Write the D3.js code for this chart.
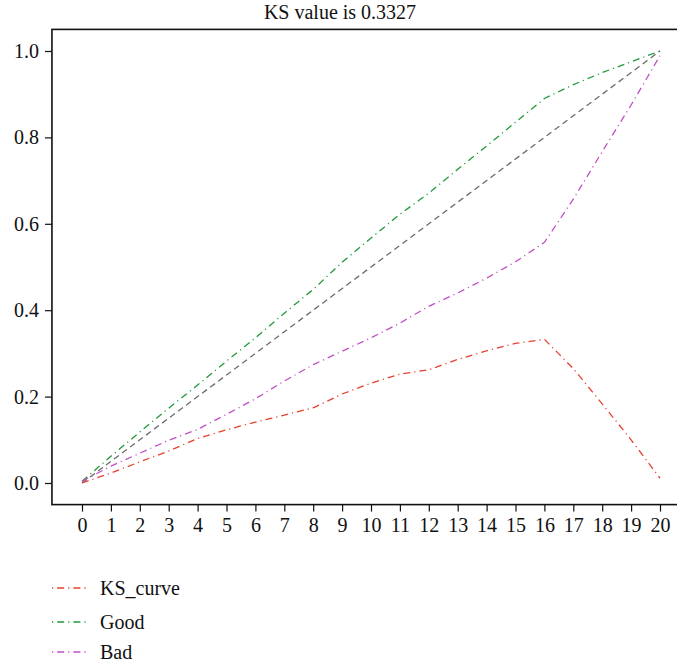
<!DOCTYPE html>
<html>
<head>
<meta charset="utf-8">
<script src="https://cdn.jsdelivr.net/npm/d3@7/dist/d3.min.js"></script>
<style>
  html, body { margin: 0; padding: 0; background: #fff; }
  svg { display: block; }
  text { font-family: "Liberation Serif", "DejaVu Serif", serif; fill: #111; }
</style>
</head>
<body>
<svg id="chart" width="677" height="663"></svg>
<script>
// ---- data ----
const steps = [0,1,2,3,4,5,6,7,8,9,10,11,12,13,14,15,16,17,18,19,20];
const ksCurve = [0.0, 0.023, 0.049, 0.074, 0.103, 0.123, 0.141, 0.157, 0.174, 0.206, 0.231,
                 0.252, 0.262, 0.286, 0.306, 0.323, 0.3327, 0.265, 0.183, 0.100, 0.011];
const good = [0.004, 0.062, 0.118, 0.173, 0.227, 0.282, 0.336, 0.393, 0.448, 0.511, 0.567,
              0.622, 0.671, 0.726, 0.780, 0.835, 0.890, 0.922, 0.950, 0.975, 1.0];
const bad = [0.004, 0.039, 0.069, 0.099, 0.124, 0.159, 0.195, 0.236, 0.274, 0.305, 0.336,
             0.370, 0.409, 0.440, 0.474, 0.512, 0.557, 0.657, 0.767, 0.875, 0.989];
const diagonal = [[0, 0], [20, 1]];
const yTicks = [0, 0.2, 0.4, 0.6, 0.8, 1.0];
const titleText = "KS value is 0.3327";
const seriesNames = ["KS_curve", "Good", "Bad"];

// ---- layout ----
const FONT = '"Liberation Serif", "DejaVu Serif", serif';
const svg = d3.select("#chart");
const x = d3.scaleLinear().domain([0, 20]).range([82, 660]);
const y = d3.scaleLinear().domain([0, 1]).range([483, 51]);
const x0 = x(-1.04), x1 = x(21.04), yTop = y(1.05), yBot = y(-0.05);

const colors = { KS_curve: "#e8402e", Good: "#22993a", Bad: "#c04fc6", diag: "#6b6b6b" };
const dashDot = "7,4,1.2,4";

// title
svg.append("text").attr("x", 340).attr("y", 19).attr("text-anchor", "middle")
  .style("font-family", FONT).style("font-size", "20px").text(titleText);

// axes
const yAxis = d3.axisLeft(y).tickValues(yTicks).tickFormat(d3.format(".1f")).tickSize(7).tickPadding(6);
const gy = svg.append("g").attr("transform", `translate(${x0},0)`).call(yAxis);
gy.select(".domain").remove();
gy.selectAll("line").attr("stroke", "#111").attr("stroke-width", 1.2);
gy.selectAll("text").style("font-size", "20px").style("font-family", FONT).style("fill", "#111");

const xAxis = d3.axisBottom(x).tickValues(steps).tickFormat(d3.format("d")).tickSize(7).tickPadding(6);
const gx = svg.append("g").attr("transform", `translate(0,${yBot})`).call(xAxis);
gx.select(".domain").remove();
gx.selectAll("line").attr("stroke", "#111").attr("stroke-width", 1.2);
gx.selectAll("text").style("font-size", "20px").style("font-family", FONT).style("fill", "#111");

// frame
svg.append("rect").attr("x", x0).attr("y", yTop).attr("width", x1 - x0).attr("height", yBot - yTop)
  .attr("fill", "none").attr("stroke", "#111").attr("stroke-width", 1.6);

// lines
const line = d3.line().x((d, i) => x(steps[i])).y(d => y(d));
svg.append("path").datum(diagonal)
  .attr("d", d3.line().x(d => x(d[0])).y(d => y(d[1])))
  .attr("fill", "none").attr("stroke", colors.diag).attr("stroke-width", 1.3).attr("stroke-dasharray", "6,4");

const seriesData = { KS_curve: ksCurve, Good: good, Bad: bad };
seriesNames.forEach(name => {
  svg.append("path").datum(seriesData[name]).attr("d", line)
    .attr("fill", "none").attr("stroke", colors[name]).attr("stroke-width", 1.3)
    .attr("stroke-dasharray", dashDot);
});

// legend
const legendY = [588, 622, 652];
seriesNames.forEach((name, i) => {
  const g = svg.append("g").attr("transform", `translate(0,${legendY[i]})`);
  g.append("line").attr("x1", 52).attr("x2", 87).attr("y1", 0).attr("y2", 0)
    .attr("stroke", colors[name]).attr("stroke-width", 1.3).attr("stroke-dasharray", "1.2,4,7,4");
  g.append("text").attr("x", 100).attr("y", 0).attr("dy", "0.35em")
    .style("font-family", FONT).style("font-size", "20px").style("fill", "#111").text(name);
});
</script>
</body>
</html>
